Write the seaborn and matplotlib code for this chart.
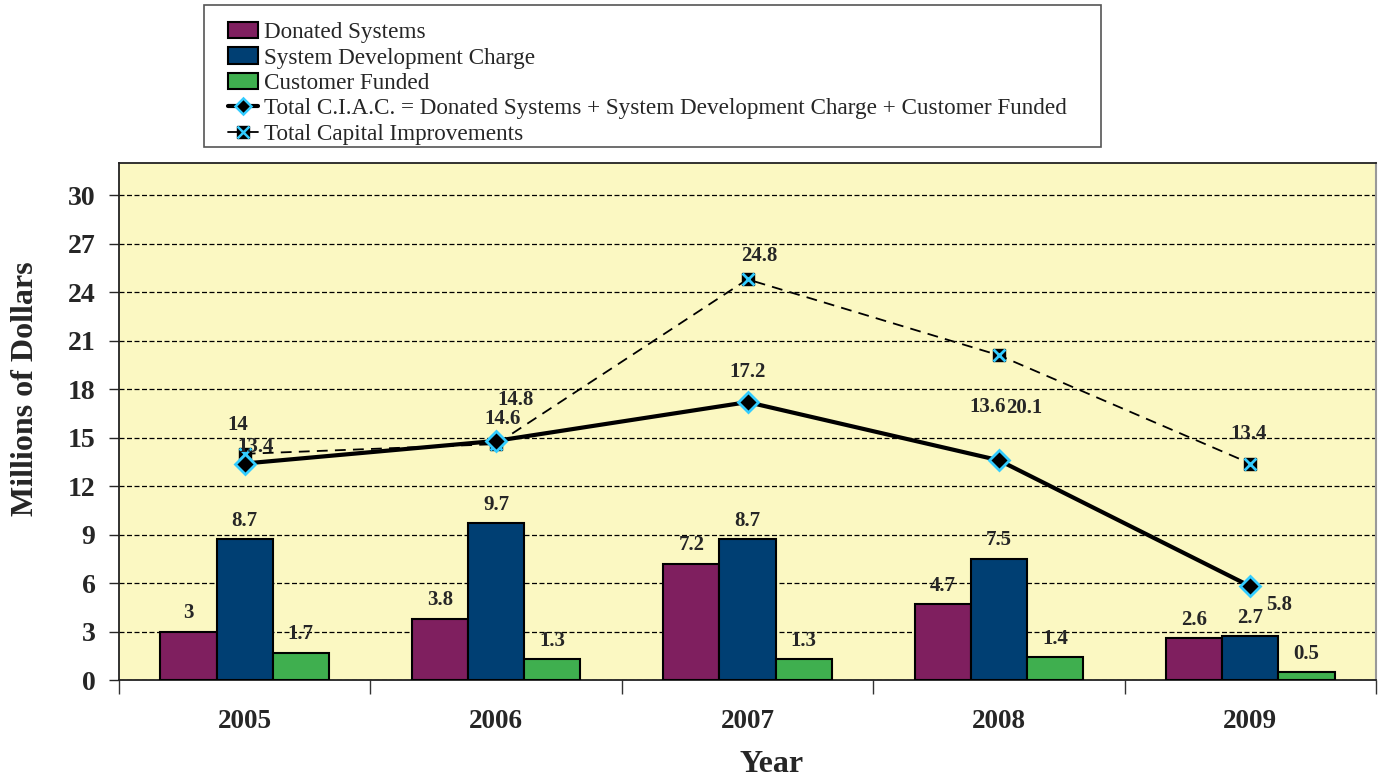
import numpy as np
import pandas as pd
import matplotlib
matplotlib.use("Agg")
import matplotlib.pyplot as plt
import seaborn as sns
from matplotlib.patches import Patch, Rectangle
from matplotlib.lines import Line2D
from matplotlib.ticker import FixedLocator

# ---- data ----
years = ["2005", "2006", "2007", "2008", "2009"]
donated = [3, 3.8, 7.2, 4.7, 2.6]
sdc = [8.7, 9.7, 8.7, 7.5, 2.7]
customer = [1.7, 1.3, 1.3, 1.4, 0.5]
ciac = [13.4, 14.8, 17.2, 13.6, 5.8]
capital = [14, 14.6, 24.8, 20.1, 13.4]
series_names = ["Donated Systems", "System Development Charge", "Customer Funded"]
ciac_name = "Total C.I.A.C. = Donated Systems + System Development Charge + Customer Funded"
cap_name = "Total Capital Improvements"

# ---- style ----
sns.set_style("white")
plt.rcParams["font.family"] = ["Liberation Serif", "DejaVu Serif"]

colors = ["#7F1F5F", "#003F73", "#3FAF4F"]
BG = "#FBF8C2"
CYAN = "#33CCFF"

df = pd.DataFrame({
    "Year": years * 3,
    "Value": donated + sdc + customer,
    "Series": sum([[n] * len(years) for n in series_names], []),
})

fig = plt.figure(figsize=(13.8, 7.79), dpi=100)
ax = fig.add_axes([119 / 1380, 1 - 680 / 779, (1376 - 119) / 1380, (680 - 163) / 779])
ax.set_facecolor(BG)

sns.barplot(data=df, x="Year", y="Value", hue="Series", palette=colors,
            width=0.67, edgecolor="black", linewidth=1.5, legend=False, ax=ax,
            errorbar=None, saturation=1, zorder=3)

for cont in ax.containers:
    ax.bar_label(cont, fmt="%g", padding=6, fontsize=15, fontweight="bold", zorder=6)

xs = np.arange(len(years))
sns.lineplot(x=xs, y=capital, ax=ax, color="black", lw=1.3,
             linestyle=(0, (6, 4)), zorder=4)
ax.plot(xs, capital, ls="none", marker="s", ms=9, mfc="black", mec="black", zorder=5)
ax.plot(xs, capital, ls="none", marker="x", ms=9, mew=2, mec=CYAN, zorder=5)
sns.lineplot(x=xs, y=ciac, ax=ax, color="black", lw=3, zorder=4)
ax.plot(xs, ciac, ls="none", marker="D", ms=10, mfc="black", mec=CYAN, mew=2, zorder=5)

ciac_off = [(11, 17), (19, 41), (0, 30), (-11, 53), (29, -19)]
cap_off = [(-7, 29), (6, 25), (12, 23), (25, -53), (-2, 30)]
for i in range(len(years)):
    ax.annotate(f"{ciac[i]:g}", (xs[i], ciac[i]), xytext=ciac_off[i], textcoords="offset pixels",
                ha="center", va="center", fontsize=15, fontweight="bold", zorder=6)
    ax.annotate(f"{capital[i]:g}", (xs[i], capital[i]), xytext=cap_off[i], textcoords="offset pixels",
                ha="center", va="center", fontsize=15, fontweight="bold", zorder=6)

ax.set_xlim(-0.5, len(years) - 0.5)
ax.set_ylim(0, 32)
ax.yaxis.set_major_locator(FixedLocator(np.arange(0, 31, 3)))
ax.grid(axis="y", color="black", ls=(0, (4, 2)), lw=0.9, zorder=1)
ax.set_axisbelow(True)
ax.set_xlabel("")
ax.set_ylabel("")
ax.xaxis.set_minor_locator(FixedLocator(np.arange(-0.5, len(years), 1.0)))
ax.tick_params(axis="x", which="major", length=0, pad=21, labelsize=19.5, bottom=True)
ax.tick_params(axis="x", which="minor", length=10, width=1, direction="out", color="#333", bottom=True)
ax.tick_params(axis="y", length=7, width=1, direction="out", pad=10, labelsize=20, left=True)
for lab in ax.get_xticklabels() + ax.get_yticklabels():
    lab.set_fontweight("bold")
for s in ["left", "top", "bottom"]:
    ax.spines[s].set_color("#222")
    ax.spines[s].set_linewidth(1.3)
ax.spines["right"].set_color("#999")
ax.spines["right"].set_linewidth(1.5)

fig.text(26 / 1380, 1 - 389 / 779, "Millions of Dollars", rotation=90, ha="center", va="center",
         fontsize=23, fontweight="bold")
fig.text(772 / 1380, 1 - 765 / 779, "Year", ha="center", va="center", fontsize=23, fontweight="bold")

# legend
handles = [Patch(facecolor=c, edgecolor="black", lw=1.5) for c in colors]
handles.append(Line2D([], [], color="black", lw=3, marker="D", ms=8, mfc="black", mec=CYAN, mew=1.8))
handles.append((Line2D([], [], color="black", lw=1.3, marker="s", ms=8, mfc="black", mec="black"),
                Line2D([], [], ls="none", marker="x", ms=8, mew=1.8, mec=CYAN)))
labels = series_names + [ciac_name, cap_name]
fig.legend(handles, labels, loc="upper left", bbox_to_anchor=(228 / 1380, 1 - 22 / 779),
           frameon=False, fontsize=16.7, handlelength=1.3, handletextpad=0.25,
           labelspacing=0.18, borderpad=0, borderaxespad=0)
fig.patches.append(Rectangle((204 / 1380, 1 - 147 / 779), 897 / 1380, 142 / 779,
                             transform=fig.transFigure, fill=False, ec="#555", lw=1.2))

fig.savefig("out.png", dpi=100, facecolor="white")
